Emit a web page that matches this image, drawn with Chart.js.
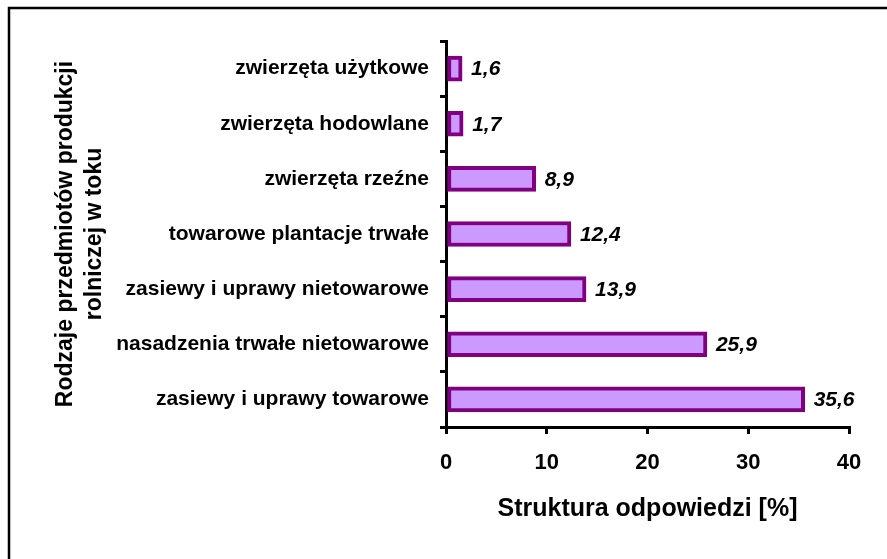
<!DOCTYPE html>
<html>
<head>
<meta charset="utf-8">
<script src="https://cdn.jsdelivr.net/npm/chart.js@4/dist/chart.umd.min.js"></script>
<style>
  html, body { margin: 0; padding: 0; background: #fff; }
  canvas { display: block; }
</style>
</head>
<body>
<canvas id="c" width="887" height="559"></canvas>
<script>
const categories = [
  "zwierzęta użytkowe",
  "zwierzęta hodowlane",
  "zwierzęta rzeźne",
  "towarowe plantacje trwałe",
  "zasiewy i uprawy nietowarowe",
  "nasadzenia trwałe nietowarowe",
  "zasiewy i uprawy towarowe"
];
const values = [1.6, 1.7, 8.9, 12.4, 13.9, 25.9, 35.6];
const xTicks = [0, 10, 20, 30, 40];
const xTitle = "Struktura odpowiedzi [%]";
const yTitle = ["Rodzaje przedmiotów produkcji", "rolniczej w toku"];

const FONT = "'Liberation Sans', Arial, Helvetica, sans-serif";
Chart.defaults.color = '#000';
Chart.defaults.font.family = FONT;

const frame = {
  id: 'frame',
  beforeDraw(chart) {
    const ctx = chart.ctx;
    ctx.save();
    ctx.fillStyle = '#fff';
    ctx.fillRect(0, 0, chart.width, chart.height);
    ctx.strokeStyle = '#000';
    ctx.lineWidth = 2.5;
    ctx.strokeRect(9, 8, 1000, 1000);
    ctx.restore();
  }
};

const valueLabels = {
  id: 'valueLabels',
  afterDatasetsDraw(chart) {
    const ctx = chart.ctx;
    const meta = chart.getDatasetMeta(0);
    ctx.save();
    ctx.font = "italic bold 21px " + FONT;
    ctx.fillStyle = '#000';
    ctx.textAlign = 'left';
    ctx.textBaseline = 'middle';
    meta.data.forEach((bar, i) => {
      const txt = String(values[i]).replace('.', ',');
      ctx.fillText(txt, bar.x + 9, bar.y + 1);
    });
    ctx.restore();
  }
};

new Chart(document.getElementById('c'), {
  type: 'bar',
  data: {
    labels: categories,
    datasets: [{
      data: values,
      backgroundColor: '#CC99FF',
      borderColor: '#800080',
      borderWidth: 4,
      borderSkipped: false,
      barThickness: 25
    }]
  },
  options: {
    indexAxis: 'y',
    responsive: false,
    animation: false,
    layout: { padding: { top: 41, right: 38, left: 0, bottom: 0 } },
    plugins: { legend: { display: false }, tooltip: { enabled: false } },
    scales: {
      x: {
        min: 0, max: 40,
        afterBuildTicks(scale) { scale.ticks = xTicks.map(v => ({ value: v })); },
        afterFit(scale) { scale.height = 132; },
        grid: { drawOnChartArea: false, drawTicks: true, tickLength: 7, color: '#000', lineWidth: 3 },
        border: { display: true, color: '#000', width: 3 },
        ticks: { font: { size: 22, weight: 'bold' }, padding: 16, color: '#000', maxRotation: 0 },
        title: { display: true, text: xTitle, font: { size: 25, weight: 'bold' }, color: '#000', padding: { top: 0, bottom: 35 } }
      },
      y: {
        afterFit(scale) { scale.width = 446; },
        grid: { drawOnChartArea: false, drawTicks: true, tickLength: 6, color: '#000', lineWidth: 3, offset: true },
        border: { display: true, color: '#000', width: 3 },
        ticks: { font: { size: 21, weight: 'bold' }, padding: 11, color: '#000' },
        title: { display: true, text: yTitle, font: { size: 23, weight: 'bold', lineHeight: 1.27 }, color: '#000', padding: { top: 51, bottom: 0 } }
      }
    }
  },
  plugins: [frame, valueLabels]
});
</script>
</body>
</html>
